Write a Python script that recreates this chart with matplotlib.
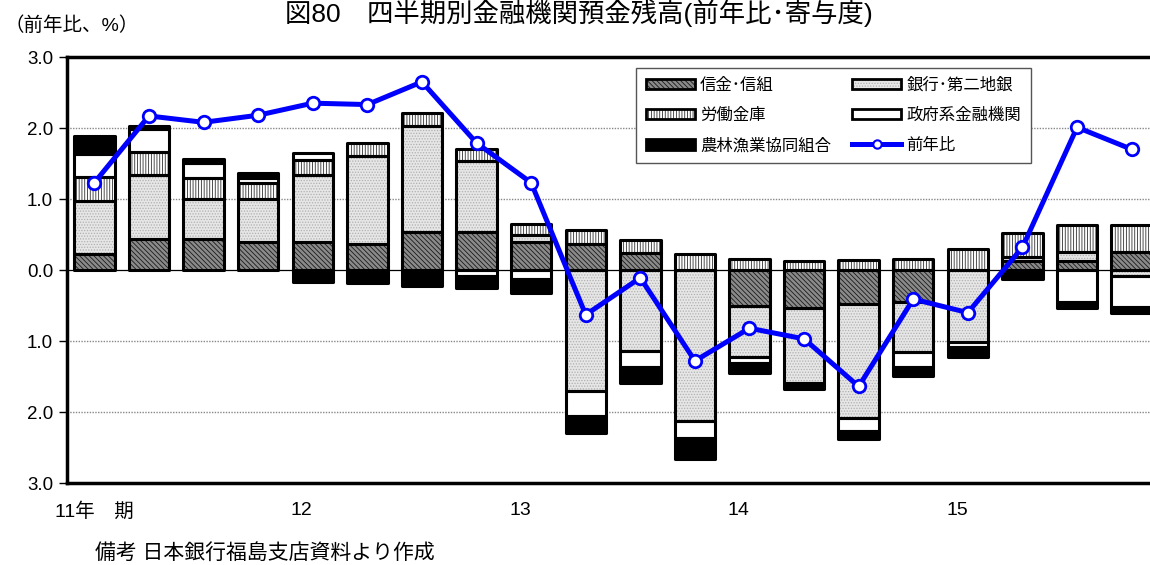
import numpy as np
import matplotlib.pyplot as plt
from matplotlib.patches import Patch
from matplotlib.lines import Line2D
from matplotlib.legend_handler import HandlerTuple

plt.rcParams['font.family'] = ['Liberation Sans', 'Noto Sans CJK JP']
plt.rcParams['hatch.linewidth'] = 0.6

# 寄与度 (%pt), 2011年Ⅰ期 - 2015年Ⅳ期
shinkin = [0.22, 0.43, 0.43, 0.39, 0.40, 0.36, 0.53, 0.53, 0.40, 0.36,
           0.24, 0.00, -0.50, -0.53, -0.48, -0.45, 0.00, 0.13, 0.12, 0.25]
ginko = [0.75, 0.91, 0.57, 0.61, 0.94, 1.24, 1.50, 1.00, 0.10, -1.70,
         -1.14, -2.13, -0.72, -1.06, -1.61, -0.71, -1.02, 0.06, 0.13, -0.09]
rodo = [0.34, 0.32, 0.30, 0.23, 0.21, 0.19, 0.18, 0.18, 0.15, 0.20,
        0.18, 0.23, 0.15, 0.12, 0.14, 0.15, 0.29, 0.33, 0.39, 0.38]
seifu = [0.33, 0.33, 0.21, 0.07, 0.10, 0.00, 0.00, -0.09, -0.13, -0.35,
         -0.23, -0.24, -0.09, 0.00, -0.18, -0.20, -0.07, -0.03, -0.45, -0.43]
norin = [0.25, 0.04, 0.05, 0.06, -0.17, -0.18, -0.23, -0.17, -0.19, -0.25,
         -0.22, -0.29, -0.14, -0.08, -0.11, -0.13, -0.13, -0.09, -0.08, -0.09]
# 前年比 (%)
yoy = [1.23, 2.17, 2.08, 2.18, 2.35, 2.33, 2.65, 1.79, 1.23, -0.63,
       -0.11, -1.28, -0.82, -0.97, -1.64, -0.41, -0.60, 0.32, 2.01, 1.70]

year_labels = ['11年　期', '12', '13', '14', '15']
year_pos = [0, 3.8, 7.8, 11.8, 15.8]

labels = ['信金･信組', '銀行･第二地銀', '労働金庫', '政府系金融機関', '農林漁業協同組合']
fills = ['#8a8a8a', '#e6e6e6', 'white', 'white', 'black']
hatches = ['\\\\\\\\\\\\\\', '......', '||||||', None, None]
hatch_colors = ['#1a1a1a', '#b0b0b0', '#303030', 'white', 'black']

fig = plt.figure(figsize=(11.5, 5.65), dpi=100)
ax = fig.add_axes([0.0583, 0.1451, 0.9495, 0.754])

n = len(yoy)
x = np.arange(n)
width = 0.74
pos_base = np.zeros(n)
neg_base = np.zeros(n)
handles = []
for vals, fc, hc, h in zip([shinkin, ginko, rodo, seifu, norin], fills, hatch_colors, hatches):
    v = np.array(vals)
    base = np.where(v >= 0, pos_base, neg_base)
    m = v != 0
    ax.bar(x[m], v[m], width, bottom=base[m], color=fc, hatch=h,
           edgecolor=hc, linewidth=0, zorder=2)
    ax.bar(x[m], v[m], width, bottom=base[m], facecolor='none',
           edgecolor='black', linewidth=2.2, joinstyle='round', zorder=3)
    pos_base += np.where(v > 0, v, 0)
    neg_base += np.where(v < 0, v, 0)
    handles.append((Patch(facecolor=fc, hatch=h, edgecolor=hc, linewidth=0),
                    Patch(facecolor='none', edgecolor='black', linewidth=2)))

ax.plot(x, yoy, color='#0000ff', lw=3.6, marker='o', ms=9,
        mfc='white', mec='#0000ff', mew=2, zorder=5)
line_handle = Line2D([], [], color='#0000ff', lw=3.6, marker='o', ms=6,
                     mfc='white', mec='#0000ff', mew=1.5)

# grid lines and zero line
for yv in [2, 1, -1, -2]:
    ax.axhline(yv, color='#888888', lw=1, ls=(0, (1, 1)), zorder=0)
ax.axhline(0, color='black', lw=0.9, zorder=1)

ax.set_xlim(-0.5, 19.5)
ax.set_ylim(-3, 3)
ax.set_yticks(np.arange(-3, 3.1, 1))
ax.yaxis.set_major_formatter(plt.FuncFormatter(lambda v, p: f'{abs(v):.1f}'))
ax.tick_params(axis='y', labelsize=13.5, length=6, width=1, pad=4)
ax.set_xticks(year_pos, year_labels)
ax.tick_params(axis='x', labelsize=14, length=0, pad=14)

for s in ['left', 'bottom', 'top']:
    ax.spines[s].set_linewidth(2.5)
ax.spines['right'].set_visible(False)

order = [0, 2, 4, 1, 3]
leg_handles = [handles[i] for i in order] + [line_handle]
leg_labels = [labels[i] for i in order] + ['前年比']
leg = fig.legend(leg_handles, leg_labels, ncol=2, loc='upper left',
                 bbox_to_anchor=(0.553, 0.880), borderaxespad=0,
                 fontsize=11.8, handlelength=3.0, handleheight=0.6,
                 handletextpad=0.3, columnspacing=1.3, labelspacing=0.9,
                 borderpad=0.6, fancybox=False, framealpha=1,
                 handler_map={tuple: HandlerTuple(ndivide=1)})
leg.get_frame().set_edgecolor('#555555')
leg.get_frame().set_linewidth(1)

fig.text(0.503, 0.977, '図80　四半期別金融機関預金残高(前年比･寄与度)',
         ha='center', va='center', fontsize=19)
fig.text(0.004, 0.955, '（前年比、%）', ha='left', va='center', fontsize=14)
fig.text(0.083, 0.021, '備考 日本銀行福島支店資料より作成',
         ha='left', va='center', fontsize=15)

fig.savefig('out.png', dpi=100)
